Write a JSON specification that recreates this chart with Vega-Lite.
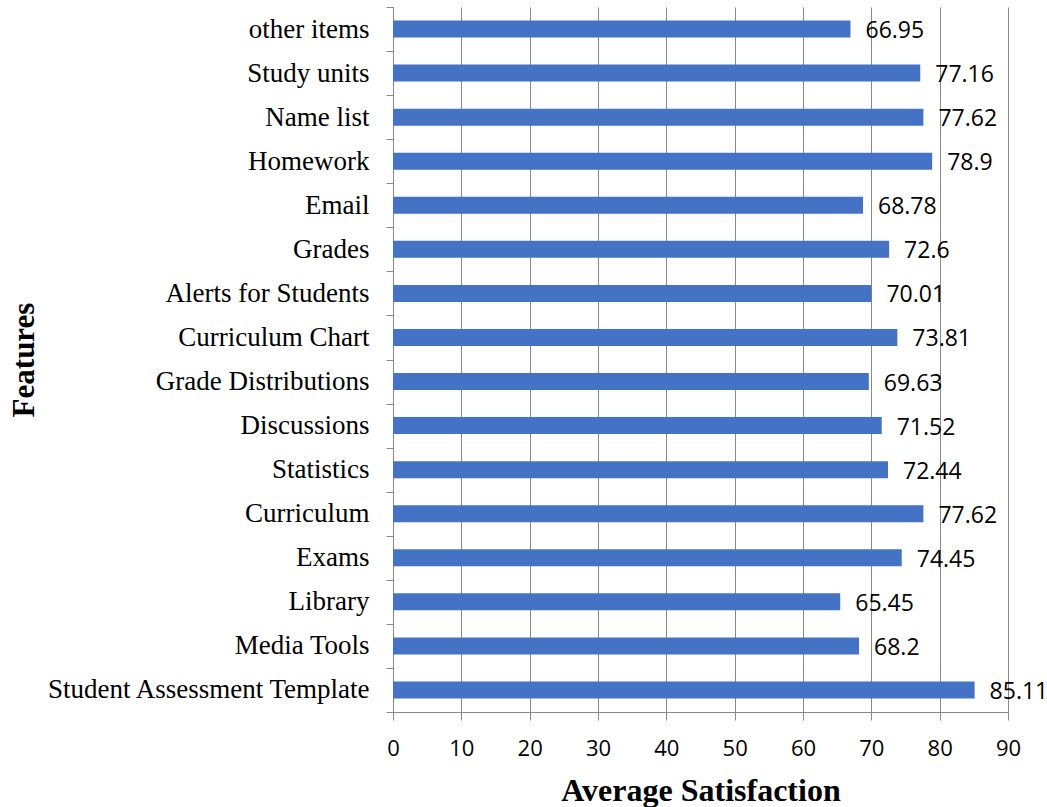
{
  "$schema": "https://vega.github.io/schema/vega-lite/v6.json",
  "width": 615,
  "height": 705,
  "autosize": {"type": "none"},
  "padding": {"left": 393, "top": 7, "right": 39, "bottom": 95},
  "background": "white",
  "config": {
    "view": {"stroke": null}
  },
  "data": {
    "values": [
      {"feature": "other items", "value": 66.95},
      {"feature": "Study units", "value": 77.16},
      {"feature": "Name list", "value": 77.62},
      {"feature": "Homework", "value": 78.9},
      {"feature": "Email", "value": 68.78},
      {"feature": "Grades", "value": 72.6},
      {"feature": "Alerts for Students", "value": 70.01},
      {"feature": "Curriculum Chart", "value": 73.81},
      {"feature": "Grade Distributions", "value": 69.63},
      {"feature": "Discussions", "value": 71.52},
      {"feature": "Statistics", "value": 72.44},
      {"feature": "Curriculum", "value": 77.62},
      {"feature": "Exams", "value": 74.45},
      {"feature": "Library", "value": 65.45},
      {"feature": "Media Tools", "value": 68.2},
      {"feature": "Student Assessment Template", "value": 85.11}
    ]
  },
  "encoding": {
    "y": {
      "field": "feature",
      "type": "nominal",
      "sort": null,
      "scale": {"paddingInner": 0, "paddingOuter": 0},
      "axis": {
        "title": "Features",
        "titleFont": "Liberation Serif",
        "titleFontSize": 31,
        "titleFontWeight": "bold",
        "titleColor": "black",
        "titleAngle": -90,
        "titleX": -360,
        "titleY": 352.5,
        "titleBaseline": "alphabetic",
        "labelFont": "Liberation Serif",
        "labelFontSize": 27,
        "labelColor": "black",
        "labelPadding": 17,
        "labelLimit": 0,
        "tickSize": 7,
        "tickBand": "extent",
        "tickColor": "#898989",
        "domainColor": "#898989",
        "grid": false
      }
    },
    "x": {
      "field": "value",
      "type": "quantitative",
      "scale": {"domain": [0, 90], "nice": false},
      "axis": {
        "title": "Average Satisfaction",
        "titleFont": "Liberation Serif",
        "titleFontSize": 32,
        "titleFontWeight": "bold",
        "titleColor": "black",
        "titleY": 88,
        "titleBaseline": "alphabetic",
        "values": [0, 10, 20, 30, 40, 50, 60, 70, 80, 90],
        "labelFont": "Open Sans",
        "labelFontSize": 22,
        "labelColor": "black",
        "labelPadding": 18.5,
        "labelFlush": false,
        "labelOverlap": false,
        "tickSize": 8,
        "tickColor": "#898989",
        "domainColor": "#898989",
        "grid": true,
        "gridColor": "#898989",
        "gridOpacity": 1
      }
    }
  },
  "layer": [
    {
      "mark": {"type": "bar", "color": "#4472C4", "size": 17}
    },
    {
      "mark": {
        "type": "text",
        "align": "left",
        "baseline": "middle",
        "dx": 15,
        "dy": 2,
        "font": "Open Sans",
        "fontSize": 23,
        "color": "black"
      },
      "encoding": {
        "text": {"field": "value", "type": "nominal"}
      }
    }
  ]
}
